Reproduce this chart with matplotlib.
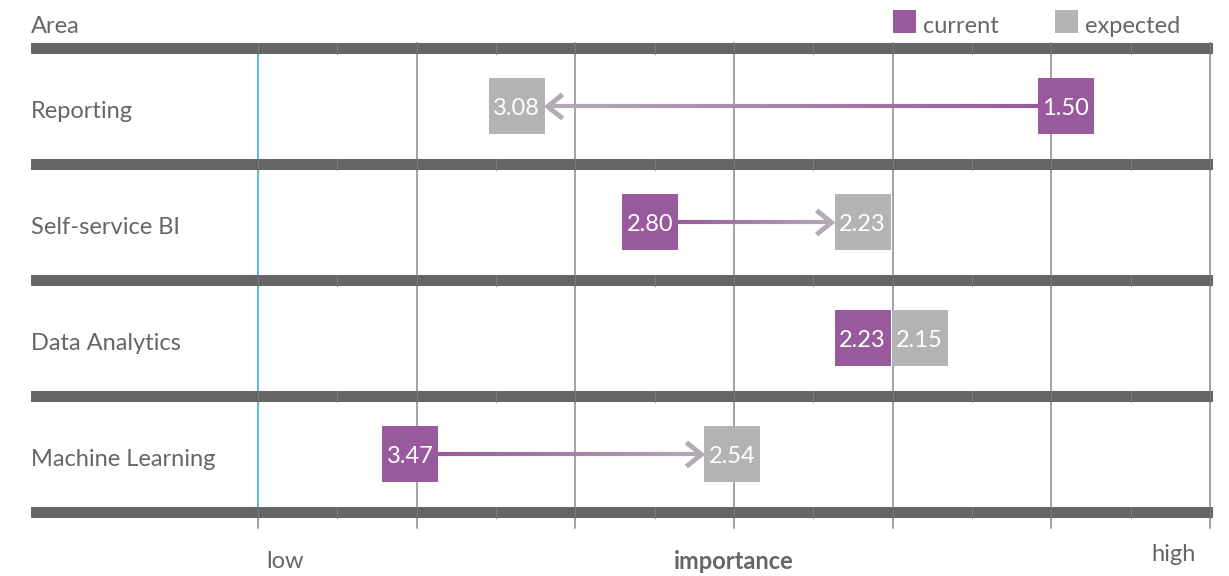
import numpy as np
import matplotlib.pyplot as plt
from matplotlib.patches import Rectangle
from matplotlib.collections import LineCollection
from matplotlib.colors import to_rgb

plt.rcParams['font.family'] = ['Lato', 'DejaVu Sans']

# data
areas = ["Reporting", "Self-service BI", "Data Analytics", "Machine Learning"]
current = [1.50, 2.80, 2.23, 3.47]
expected = [3.08, 2.23, 2.15, 2.54]
# where each value sits on the importance scale (0 = low ... 6 = high)
current_imp = [5.09, 2.47, 3.81, 0.96]
expected_imp = [1.63, 3.81, 4.17, 2.99]

purple = "#985a9c"
grey_box = "#b3b3b3"
arrow_end = "#b2aab5"
band = "#666666"
txt = "#666666"

fig = plt.figure(figsize=(12.29, 5.76), dpi=100)
ax = fig.add_axes([0, 0, 1, 1])
px = 158.67  # pixels per importance step
py = 116.0   # pixels per row
ax.set_xlim(-258 / px, (1229 - 258) / px)
ax.set_ylim((576 - 106.5) / py, -106.5 / py)
ax.axis('off')

n = len(areas)
x0, x1 = -1.43, 6.02
bh = 5.5 / py

# separator bands
for k in range(n + 1):
    ax.add_patch(Rectangle((x0, k - 0.5 - bh), x1 - x0, 2 * bh,
                           facecolor=band, edgecolor='none', zorder=2))

# grid lines
top = -0.5 - bh
bottom = (528 - 106.5) / py
for g in range(1, 7):
    ax.plot([g, g], [top, bottom], color="#8a8a8a", lw=1.1, zorder=1)
ax.plot([0, 0], [bottom - 0.1, bottom], color="#8a8a8a", lw=1.1, zorder=1)
ax.plot([0, 0], [-0.5 + bh, n - 0.5 - bh], color="#5bbde0", lw=1.5, zorder=1)
for k in range(n + 1):
    for g in np.arange(0, 6.01, 0.5):
        ax.plot([g, g], [k - 0.5 - bh, k - 0.5 + bh], color="#7c7c7c",
                lw=0.7, zorder=3)

# boxes, arrows
hw = 28 / px
hh = 28 / py
c0 = np.array(to_rgb(purple))
c1 = np.array(to_rgb(arrow_end))
for i in range(n):
    cx, ex = current_imp[i], expected_imp[i]
    d = np.sign(ex - cx)
    if abs(ex - cx) > 2 * hw + 0.05:
        start = cx + d * hw
        tip = ex - d * (hw + 3 / px)
        xs = np.linspace(start, tip, 60)
        segs = [[(xs[j], i), (xs[j + 1], i)] for j in range(len(xs) - 1)]
        t = np.linspace(0, 1, len(segs))[:, None]
        cols = c0 * (1 - t) + c1 * t
        ax.add_collection(LineCollection(segs, colors=cols, linewidths=3, zorder=5,
                                         capstyle='butt'))
        ax.plot([tip - d * 15 / px, tip, tip - d * 15 / px],
                [i - 12 / py, i, i + 12 / py], color=arrow_end, lw=3.5,
                solid_joinstyle='miter', solid_capstyle='butt', zorder=6)
    for xv, val, col in [(cx, current[i], purple), (ex, expected[i], grey_box)]:
        ax.add_patch(Rectangle((xv - hw, i - hh), 2 * hw, 2 * hh,
                               facecolor=col, edgecolor='none', zorder=7))
        ax.text(xv, i + 0.015, f"{val:.2f}", color='white', fontsize=17,
                ha='center', va='center', zorder=8)
    ax.text(31 / px - 258 / px, i + 0.04, areas[i], color=txt, fontsize=17,
            ha='left', va='center')

# header
ax.text(31 / px - 258 / px, -0.69, "Area", color=txt, fontsize=17,
        ha='left', va='center')
for lx, name, col in [(893, "current", purple), (1055, "expected", grey_box)]:
    ax.add_patch(Rectangle(((lx - 258) / px, (10 - 106.5) / py), 23 / px, 23 / py,
                           facecolor=col, edgecolor='none'))
    ax.text((lx + 30 - 258) / px, -0.69, name, color=txt, fontsize=17,
            ha='left', va='center')

# axis captions
ax.text((266 - 258) / px, 3.92, "low", color=txt, fontsize=17, ha='left', va='center')
ax.text((734 - 258) / px, 3.92, "importance", color=txt, fontsize=17,
        fontweight='bold', ha='center', va='center')
ax.text((1196 - 258) / px, 3.86, "high", color=txt, fontsize=17, ha='right', va='center')

fig.savefig("out.png", dpi=100)
